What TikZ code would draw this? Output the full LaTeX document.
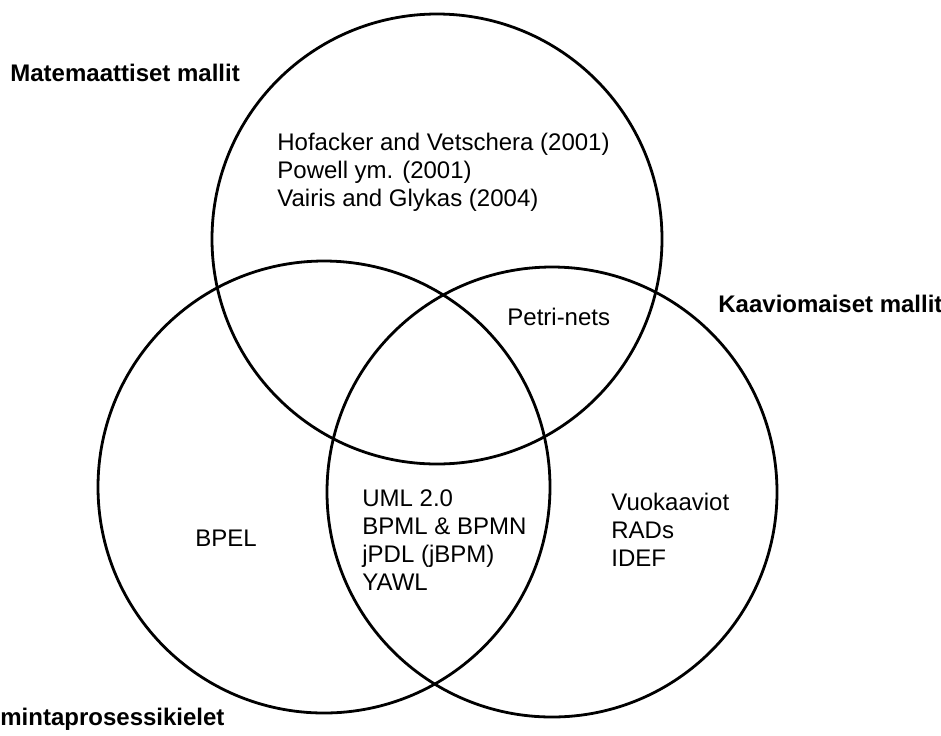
\documentclass[tikz,border=0pt]{standalone}
\usepackage{fontspec}
\setmainfont{Liberation Sans}
\usetikzlibrary{positioning}
\begin{document}
\begin{tikzpicture}[
  x=0.5pt, y=-0.5pt,
  set/.style={draw, circle, line width=1.4pt, minimum size=#1, inner sep=0pt},
  lbl/.style={anchor=base west, align=left, inner sep=0pt,
              font=\fontsize{12}{14}\selectfont},
  title/.style={lbl, font=\fontsize{12}{14}\selectfont\bfseries}
]
\useasboundingbox (0,0) rectangle (941,735);
\clip (0,0) rectangle (941,735);

% the three sets
\node[set=225pt] (math) at (437,239) {};
\node[set=226pt] (lang) at (324,487) {};
\node[set=225pt] (diag) at (552,492) {};

% set names
\node[title] (mathname) at (10,81) {Matemaattiset mallit};
\node[title] (diagname) at (718,312) {Kaaviomaiset mallit};
\node[title] (langname) at (0,725) {mintaprosessikielet};

% contents (base = last line)
\node[lbl] (mathonly) at (277,206)
  {Hofacker and Vetschera (2001)\\Powell ym. (2001)\\Vairis and Glykas (2004)};
\node[lbl] (petri) at (507,325) {Petri-nets};
\node[lbl] (bpel) at (195,546) {BPEL};
\node[lbl] (common) at (362,590) {UML 2.0\\BPML \& BPMN\\jPDL (jBPM)\\YAWL};
\node[lbl] (diagonly) at (611,566) {Vuokaaviot\\RADs\\IDEF};
\end{tikzpicture}
\end{document}
